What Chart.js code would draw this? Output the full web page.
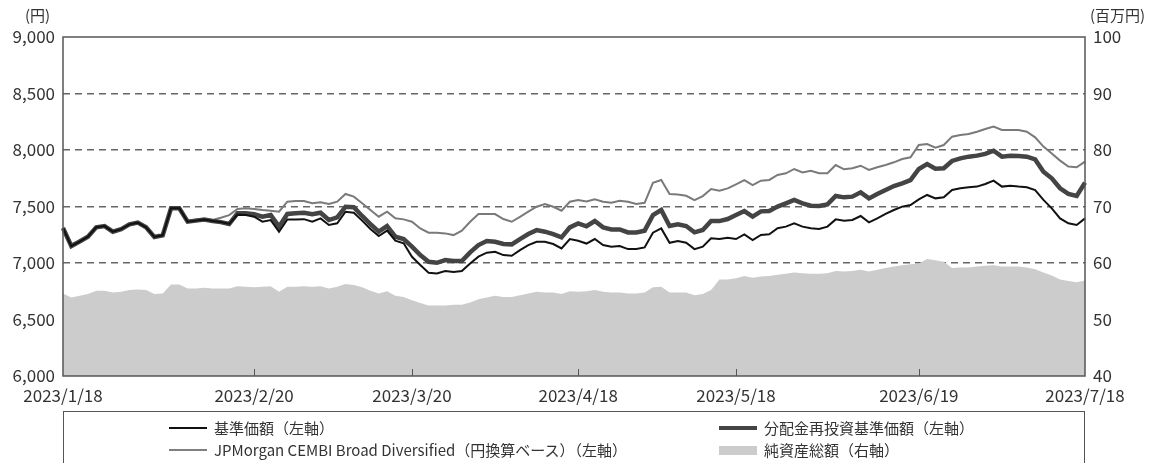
<!DOCTYPE html>
<html>
<head>
<meta charset="utf-8">
<script src="https://cdn.jsdelivr.net/npm/chart.js@4"></script>
<style>
  body { margin: 0; background: #fff; }
  #wrap { position: relative; width: 1164px; height: 463px; overflow: hidden; font-family: 'Noto Sans CJK JP', 'Noto Sans', sans-serif; color: #333; }
  .unit { position: absolute; top: 4px; font-size: 15px; }
  #legend { position: absolute; left: 63px; top: 411px; width: 1020px; height: 70px; border: 1px solid #555; font-size: 15px; }
  .item { position: absolute; height: 20px; line-height: 20px; white-space: nowrap; }
  .sw { position: absolute; left: 0; }
  .item span.t { position: absolute; left: 45px; }
</style>
</head>
<body>
<div id="wrap">
  <canvas id="canvas" width="1164" height="463"></canvas>
  <div class="unit" style="left:25px">(円)</div>
  <div class="unit" style="left:1090px">(百万円)</div>
  <div id="legend">
    <div class="item" style="left:105px; top:6px"><div class="sw" style="top:9px; width:38px; height:2px; background:#111"></div><span class="t">基準価額（左軸）</span></div>
    <div class="item" style="left:655px; top:6px"><div class="sw" style="top:8px; width:38px; height:4px; background:#444"></div><span class="t">分配金再投資基準価額（左軸）</span></div>
    <div class="item" style="left:105px; top:28px"><div class="sw" style="top:9px; width:38px; height:2px; background:#808080"></div><span class="t">JPMorgan CEMBI Broad Diversified（円換算ベース）（左軸）</span></div>
    <div class="item" style="left:655px; top:28px"><div class="sw" style="top:6px; width:38px; height:9px; background:#ccc"></div><span class="t">純資産総額（右軸）</span></div>
  </div>
</div>
<script>
// 営業日（日本の祝日を除く）
var dates = [
  '2023/1/18','2023/1/19','2023/1/20','2023/1/23','2023/1/24','2023/1/25','2023/1/26','2023/1/27','2023/1/30','2023/1/31',
  '2023/2/1','2023/2/2','2023/2/3','2023/2/6','2023/2/7','2023/2/8','2023/2/9','2023/2/10','2023/2/13','2023/2/14',
  '2023/2/15','2023/2/16','2023/2/17','2023/2/20','2023/2/21','2023/2/22','2023/2/24','2023/2/27','2023/2/28',
  '2023/3/1','2023/3/2','2023/3/3','2023/3/6','2023/3/7','2023/3/8','2023/3/9','2023/3/10','2023/3/13','2023/3/14',
  '2023/3/15','2023/3/16','2023/3/17','2023/3/20','2023/3/22','2023/3/23','2023/3/24','2023/3/27','2023/3/28','2023/3/29',
  '2023/3/30','2023/3/31',
  '2023/4/3','2023/4/4','2023/4/5','2023/4/6','2023/4/7','2023/4/10','2023/4/11','2023/4/12','2023/4/13','2023/4/14',
  '2023/4/17','2023/4/18','2023/4/19','2023/4/20','2023/4/21','2023/4/24','2023/4/25','2023/4/26','2023/4/27','2023/4/28',
  '2023/5/1','2023/5/2','2023/5/8','2023/5/9','2023/5/10','2023/5/11','2023/5/12','2023/5/15','2023/5/16','2023/5/17',
  '2023/5/18','2023/5/19','2023/5/22','2023/5/23','2023/5/24','2023/5/25','2023/5/26','2023/5/29','2023/5/30','2023/5/31',
  '2023/6/1','2023/6/2','2023/6/5','2023/6/6','2023/6/7','2023/6/8','2023/6/9','2023/6/12','2023/6/13','2023/6/14',
  '2023/6/15','2023/6/16','2023/6/19','2023/6/20','2023/6/21','2023/6/22','2023/6/23','2023/6/26','2023/6/27','2023/6/28',
  '2023/6/29','2023/6/30',
  '2023/7/3','2023/7/4','2023/7/5','2023/7/6','2023/7/7','2023/7/10','2023/7/11','2023/7/12','2023/7/13','2023/7/14',
  '2023/7/18'
];

var tickDates = ['2023/1/18','2023/2/20','2023/3/20','2023/4/18','2023/5/18','2023/6/19','2023/7/18'];

// 基準価額（円）
var nav = [
  7310,7150,7190,7233,7316,7327,7277,7300,7342,7357,
  7316,7230,7245,7484,7484,7366,7375,7385,7372,7362,
  7345,7428,7425,7410,7366,7380,7277,7386,7386,7388,
  7366,7395,7336,7351,7454,7445,7375,7301,7239,7286,
  7198,7174,7055,6982,6914,6908,6929,6920,6929,6996,
  7056,7091,7100,7070,7064,7114,7159,7188,7188,7168,
  7129,7212,7197,7172,7212,7159,7144,7150,7123,7123,
  7138,7268,7306,7179,7194,7179,7123,7144,7218,7212,
  7224,7212,7253,7203,7248,7254,7307,7322,7351,7322,
  7307,7301,7322,7386,7375,7381,7416,7360,7395,7434,
  7469,7499,7513,7563,7602,7572,7581,7646,7661,7670,
  7676,7699,7729,7676,7684,7676,7670,7646,7558,7484,
  7395,7351,7336,7395
];

// 分配金再投資基準価額（円）
var navReinvest = [
  7310,7150,7190,7233,7316,7327,7277,7300,7342,7357,
  7316,7230,7245,7484,7484,7366,7375,7385,7372,7362,
  7345,7440,7440,7431,7410,7425,7322,7434,7440,7445,
  7431,7445,7380,7404,7498,7493,7416,7345,7277,7327,
  7233,7212,7145,7070,7011,7002,7026,7017,7017,7094,
  7159,7194,7188,7168,7165,7212,7256,7291,7277,7256,
  7227,7315,7350,7325,7371,7315,7297,7297,7271,7271,
  7286,7424,7469,7327,7342,7327,7271,7292,7371,7371,
  7389,7424,7460,7410,7457,7460,7499,7528,7558,7528,
  7507,7504,7519,7593,7581,7587,7625,7572,7611,7646,
  7681,7705,7734,7832,7876,7835,7838,7903,7926,7941,
  7950,7965,7994,7941,7950,7947,7941,7917,7808,7749,
  7661,7611,7593,7711
];

// JPMorgan CEMBI Broad Diversified（円換算ベース）
var cembi = [
  7310,7160,7195,7240,7316,7330,7280,7300,7335,7350,
  7320,7240,7250,7484,7484,7370,7385,7390,7380,7400,
  7424,7478,7484,7478,7469,7463,7454,7543,7549,7549,
  7528,7537,7522,7543,7611,7587,7528,7469,7410,7454,
  7395,7386,7365,7306,7268,7268,7262,7247,7286,7365,
  7433,7433,7433,7389,7365,7409,7454,7498,7522,7498,
  7463,7542,7557,7545,7563,7542,7533,7551,7542,7522,
  7533,7710,7734,7610,7607,7595,7557,7592,7654,7640,
  7660,7696,7734,7690,7728,7735,7779,7794,7832,7802,
  7817,7794,7794,7867,7829,7838,7861,7823,7847,7867,
  7891,7920,7935,8044,8053,8020,8044,8118,8133,8142,
  8162,8186,8207,8177,8177,8177,8162,8112,8030,7970,
  7906,7853,7847,7897
];

// 純資産総額（百万円）
var netAssets = [
  54.6,53.9,54.2,54.5,55.1,55.1,54.8,54.9,55.2,55.3,
  55.2,54.5,54.6,56.2,56.2,55.5,55.5,55.6,55.5,55.5,
  55.5,55.9,55.8,55.7,55.8,55.9,54.9,55.8,55.8,55.9,
  55.8,55.9,55.5,55.8,56.3,56.1,55.7,55.1,54.6,55.0,
  54.2,54.0,53.4,52.9,52.5,52.5,52.5,52.6,52.6,53.0,
  53.6,53.9,54.2,54.0,54.0,54.3,54.6,54.9,54.8,54.8,
  54.5,55.0,54.9,55.0,55.2,54.9,54.8,54.8,54.6,54.6,
  54.8,55.7,55.8,54.8,54.8,54.8,54.3,54.5,55.2,57.1,
  57.1,57.3,57.7,57.4,57.6,57.7,57.9,58.1,58.3,58.2,
  58.1,58.1,58.2,58.6,58.5,58.6,58.8,58.5,58.8,59.1,
  59.4,59.6,59.8,59.9,60.7,60.5,60.2,59.1,59.2,59.2,
  59.4,59.5,59.6,59.4,59.4,59.4,59.2,58.9,58.3,57.8,
  57.1,56.8,56.6,56.9
];

var framePlugin = {
  id: 'frame',
  afterDatasetsDraw: function(chart) {
    var a = chart.chartArea, ctx = chart.ctx, xs = chart.scales.x;
    ctx.save();
    ctx.strokeStyle = '#555';
    ctx.lineWidth = 1.5;
    ctx.strokeRect(a.left, a.top, a.right - a.left, a.bottom - a.top);
    ctx.lineWidth = 1;
    tickDates.forEach(function(d) {
      var i = dates.indexOf(d);
      if (i <= 0 || i >= dates.length - 1) return;
      var px = Math.round(xs.getPixelForValue(i)) + 0.5;
      ctx.beginPath();
      ctx.moveTo(px, a.bottom);
      ctx.lineTo(px, a.bottom - 7);
      ctx.stroke();
    });
    ctx.restore();
  }
};

Chart.defaults.font.family = "'Noto Sans CJK JP', 'Noto Sans', sans-serif";
Chart.defaults.font.size = 17;
Chart.defaults.color = '#333';

var ctx = document.getElementById('canvas');
var chart = new Chart(ctx, {
  type: 'line',
  data: {
    labels: dates,
    datasets: [
      { label: '基準価額（左軸）', data: nav, yAxisID: 'y', borderColor: '#111', borderWidth: 2, pointRadius: 0, tension: 0, order: 0 },
      { label: '分配金再投資基準価額（左軸）', data: navReinvest, yAxisID: 'y', borderColor: '#444', borderWidth: 4.5, pointRadius: 0, tension: 0, order: 1 },
      { label: 'JPMorgan CEMBI Broad Diversified（円換算ベース）（左軸）', data: cembi, yAxisID: 'y', borderColor: '#7a7a7a', borderWidth: 2, pointRadius: 0, tension: 0, order: 2 },
      { label: '純資産総額（右軸）', data: netAssets, yAxisID: 'y1', borderWidth: 0, borderColor: 'rgba(0,0,0,0)', backgroundColor: '#cccccc', fill: 'start', pointRadius: 0, tension: 0, order: 3 }
    ]
  },
  options: {
    responsive: false,
    animation: false,
    layout: { padding: { top: 37, bottom: 57, left: 0, right: 0 } },
    plugins: { legend: { display: false }, tooltip: { enabled: false } },
    scales: {
      x: {
        type: 'category',
        grid: { display: false, drawTicks: false },
        border: { display: false },
        ticks: {
          autoSkip: false, maxRotation: 0, padding: 9,
          callback: function(v) { var l = dates[v]; return tickDates.indexOf(l) >= 0 ? l : null; }
        },
        afterFit: function(s) { s.height = 30; }
      },
      y: {
        position: 'left', min: 6000, max: 9000,
        grid: {
          drawTicks: false, lineWidth: 1.5,
          color: function(c) { var v = c.tick && c.tick.value; return (v === 6000 || v === 9000) ? 'rgba(0,0,0,0)' : '#666'; }
        },
        border: { display: false, dash: [7, 5] },
        ticks: { stepSize: 500, padding: 8, callback: function(v) { return v.toLocaleString('en-US'); } },
        afterFit: function(s) { s.width = 63; }
      },
      y1: {
        position: 'right', min: 40, max: 100,
        grid: { display: false, drawTicks: false },
        border: { display: false },
        ticks: { stepSize: 10, padding: 8 },
        afterFit: function(s) { s.width = 79; }
      }
    }
  },
  plugins: [framePlugin]
});
</script>
</body>
</html>
